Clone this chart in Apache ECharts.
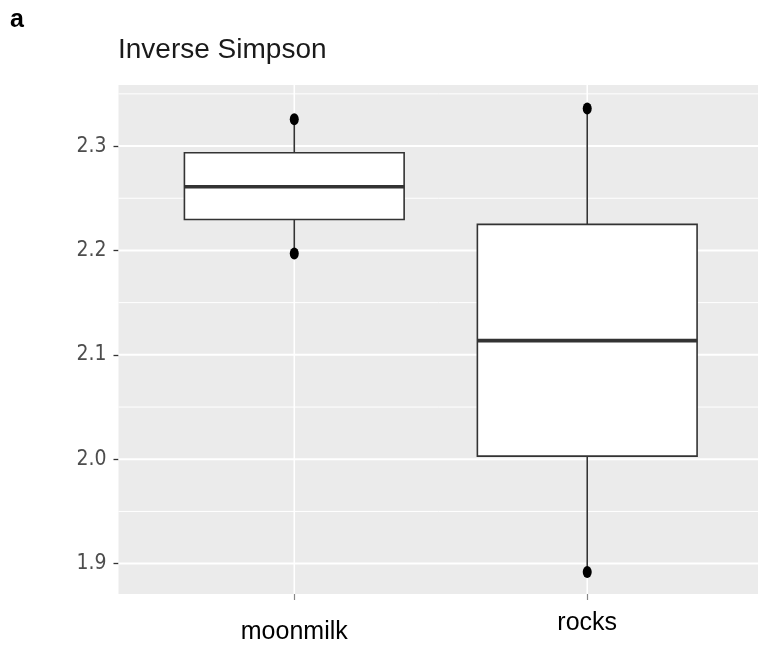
<!DOCTYPE html>
<html>
<head>
<meta charset="utf-8">
<script src="https://cdn.jsdelivr.net/npm/echarts@6/dist/echarts.min.js"></script>
<style>
html,body{margin:0;padding:0;background:#fff;}
#chart{width:758px;height:646px;}
</style>
</head>
<body>
<div id="chart"></div>
<script>
// ---- data ----
const categories = ['moonmilk', 'rocks'];
const whiskerLow = [2.197, 1.892];
const q1Values = [2.2297, 2.003];
const medianValues = [2.261, 2.1136];
const q3Values = [2.2936, 2.225];
const whiskerHigh = [2.3256, 2.336];
const pointValues = [[2.3256, 2.197], [2.336, 1.892]];
const yTickLabels = [1.9, 2.0, 2.1, 2.2, 2.3];
const yMinorGrid = [1.95, 2.05, 2.15, 2.25, 2.35];
const yRange = [1.8709, 2.3585];
const xRange = [0.4, 2.6];
const boxHalfWidth = 0.375;

const xPositions = categories.map((c, i) => i + 1);
const boxData = categories.map((c, i) => [xPositions[i], whiskerLow[i], q1Values[i], medianValues[i], q3Values[i], whiskerHigh[i]]);
const scatterData = [];
pointValues.forEach((vals, i) => vals.forEach(v => scatterData.push([xPositions[i], v])));

const gridData = [];
yTickLabels.forEach(v => gridData.push(['h', v, 2]));
yMinorGrid.forEach(v => gridData.push(['h', v, 1]));
xPositions.forEach(v => gridData.push(['v', v, 1.6]));

const chart = echarts.init(document.getElementById('chart'), null, {renderer: 'canvas'});

const option = {
  animation: false,
  backgroundColor: '#ffffff',
  graphic: [
    {type: 'text', left: 10, top: 8, style: {text: 'a', font: 'bold 25px "Liberation Sans", Arial, sans-serif', fill: '#000'}},
    {type: 'text', left: 118, top: 36, style: {text: 'Inverse Simpson', font: '28px "Liberation Sans", Arial, sans-serif', fill: '#1a1a1a'}}
  ],
  grid: {
    left: 118.5, right: -5, top: 85, bottom: 52,
    show: true, backgroundColor: '#ebebeb', borderWidth: 0,
    containLabel: false, outerBoundsMode: 'none'
  },
  xAxis: {
    type: 'value', min: xRange[0], max: xRange[1],
    axisLine: {show: false},
    splitLine: {show: false},
    axisTick: {show: true, customValues: xPositions, length: 6, lineStyle: {color: '#888', width: 1.2}},
    axisLabel: {
      show: true, customValues: xPositions, margin: 17,
      formatter: v => {
        const idx = Math.round(v) - 1;
        return idx === 0 ? '{m|' + categories[idx] + '}' : '{r|' + categories[idx] + '}';
      },
      rich: {
        m: {fontSize: 25, fontFamily: '"Liberation Sans", Arial, sans-serif', color: '#000', padding: [9, 0, 0, 0]},
        r: {fontSize: 25, fontFamily: '"Liberation Sans", Arial, sans-serif', color: '#000'}
      }
    }
  },
  yAxis: {
    type: 'value', min: yRange[0], max: yRange[1],
    axisLine: {show: false},
    splitLine: {show: false},
    axisTick: {show: true, customValues: yTickLabels, length: 5, lineStyle: {color: '#333', width: 1.3}},
    axisLabel: {
      show: true, customValues: yTickLabels, margin: 12,
      formatter: v => v.toFixed(1),
      fontSize: 21, color: '#4d4d4d',
      fontFamily: '"Liberation Sans Narrow", "Arial Narrow", "DejaVu Sans Condensed", "Liberation Sans", sans-serif'
    }
  },
  series: [
    {
      type: 'custom', z: 1, silent: true,
      data: gridData,
      encode: {x: 1, y: 1},
      renderItem: (params, api) => {
        const kind = gridData[params.dataIndex][0];
        const v = api.value(1);
        const w = api.value(2);
        let p1, p2;
        if (kind === 'h') { p1 = api.coord([xRange[0], v]); p2 = api.coord([xRange[1], v]); }
        else { p1 = api.coord([v, yRange[0]]); p2 = api.coord([v, yRange[1]]); }
        return {type: 'line', shape: {x1: p1[0], y1: p1[1], x2: p2[0], y2: p2[1]}, style: {stroke: '#ffffff', lineWidth: w}};
      }
    },
    {
      type: 'custom', z: 2, silent: true,
      data: boxData,
      encode: {x: 0, y: [1, 2, 3, 4, 5]},
      renderItem: (params, api) => {
        const x = api.value(0);
        const lo = api.value(1), q1 = api.value(2), med = api.value(3), q3 = api.value(4), hi = api.value(5);
        const tl = api.coord([x - boxHalfWidth, q3]);
        const br = api.coord([x + boxHalfWidth, q1]);
        const mL = api.coord([x - boxHalfWidth, med]);
        const mR = api.coord([x + boxHalfWidth, med]);
        const wTop = api.coord([x, hi]);
        const wQ3 = api.coord([x, q3]);
        const wQ1 = api.coord([x, q1]);
        const wBot = api.coord([x, lo]);
        const stroke = '#333333';
        return {
          type: 'group',
          children: [
            {type: 'line', shape: {x1: wTop[0], y1: wTop[1], x2: wQ3[0], y2: wQ3[1]}, style: {stroke, lineWidth: 1.6}},
            {type: 'line', shape: {x1: wQ1[0], y1: wQ1[1], x2: wBot[0], y2: wBot[1]}, style: {stroke, lineWidth: 1.6}},
            {type: 'rect', shape: {x: tl[0], y: tl[1], width: br[0] - tl[0], height: br[1] - tl[1]}, style: {fill: '#ffffff', stroke, lineWidth: 1.6}},
            {type: 'line', shape: {x1: mL[0], y1: mL[1], x2: mR[0], y2: mR[1]}, style: {stroke, lineWidth: 3.6}}
          ]
        };
      }
    },
    {
      type: 'scatter', z: 3, silent: true,
      data: scatterData,
      symbol: 'circle', symbolSize: [9, 12],
      itemStyle: {color: '#000000', opacity: 1}
    }
  ]
};
chart.setOption(option);
</script>
</body>
</html>
